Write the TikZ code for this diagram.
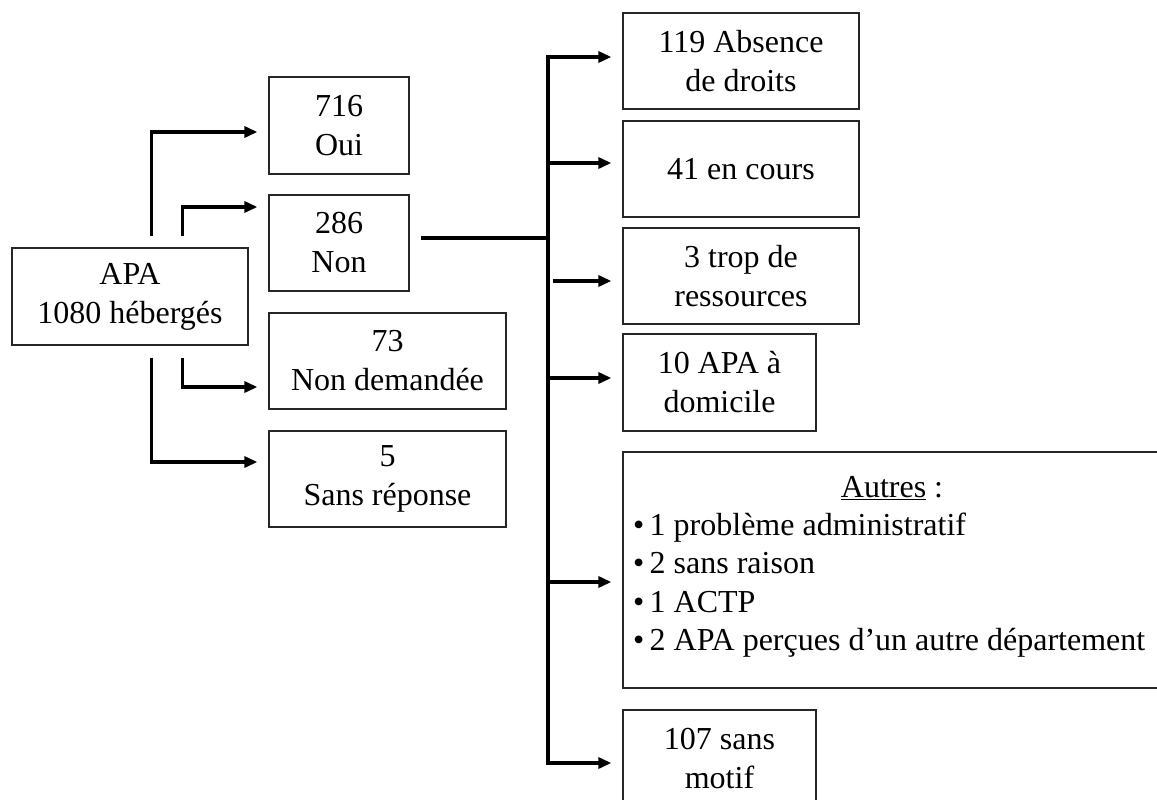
\documentclass[tikz,border=0pt]{standalone}
\usepackage{fontspec}
\setmainfont{Liberation Serif}
\usetikzlibrary{arrows.meta,calc}
\begin{document}
\begin{tikzpicture}[x=1pt,y=-1pt,
  box/.style={draw=black!85,line width=1.3pt,align=center,inner sep=0pt,
    font=\fontsize{32}{39}\selectfont},
  down/.style={execute at begin node={\rule{0pt}{#1}}},
  txt/.style={inner sep=0pt,font=\fontsize{32}{40}\selectfont},
  conn/.style={line width=3.7pt,-{Triangle[length=13pt,width=11pt]},shorten >=11pt},
  ln/.style={line width=3.7pt}]
\useasboundingbox (0,0) rectangle (1157,800);
% left boxes
\node[box,down=32pt,minimum width=236pt,minimum height=97pt] (apa) at (130,296.5) {APA\\1080 hébergés};
\node[box,down=26pt,minimum width=140pt,minimum height=97pt] (oui) at (339,125.5) {716\\Oui};
\node[box,down=28pt,minimum width=140pt,minimum height=96pt] (non) at (339,243) {286\\Non};
\node[box,down=26pt,minimum width=237pt,minimum height=96pt] (nd) at (387.5,361) {73\\Non demandée};
\node[box,down=29pt,minimum width=237pt,minimum height=96pt] (sr) at (387.5,479) {5\\Sans réponse};
% right boxes
\node[box,minimum width=236pt,minimum height=96pt] (a119) at (741,61) {119 Absence\\de droits};
\node[box,minimum width=236pt,minimum height=96pt] (a41) at (741,169) {41 en cours};
\node[box,minimum width=236pt,minimum height=96pt] (a3) at (741,276) {3 trop de\\ressources};
\node[box,minimum width=193pt,minimum height=97pt] (a10) at (719.5,382.5) {10 APA à\\domicile};
\node[box,minimum width=560pt,minimum height=236pt] (aut) at (903,570) {};
\node[box,down=26pt,minimum width=193pt,minimum height=97pt] (a107) at (719.5,758.5) {107 sans\\motif};
% Autres text
\node[txt,anchor=base] (autT) at (892,497) {\underline{Autres} :};
\node[txt,anchor=base west] (l1) at (633,535) {•\,1 problème administratif};
\node[txt,anchor=base west] (l2) at (633,573.5) {•\,2 sans raison};
\node[txt,anchor=base west] (l3) at (633,612) {•\,1 ACTP};
\node[txt,anchor=base west] (l4) at (633,650) {•\,2 APA perçues d’un autre département};
% connectors from APA
\draw[conn] ($(apa.north west)+(140,-11)$) |- ($(oui.west)+(0,6.5)$);
\draw[conn] ($(apa.north west)+(171,-11)$) |- ($(non.west)+(0,-36)$);
\draw[conn] ($(apa.south west)+(171,12)$) |- ($(nd.west)+(0,26)$);
\draw[conn] ($(apa.south west)+(140,12)$) |- ($(sr.west)+(0,-17)$);
% trunk
\coordinate (tTop) at (548,57);
\coordinate (tBot) at (548,763);
\draw[ln] ($(non.east)+(11,-5)$) -- (548,238);
\draw[ln,line cap=rect] (tBot) -- (tTop);
\draw[conn] (tTop) -- ($(a119.west)+(0,-4)$);
\draw[conn] (548,163) -- ($(a41.west)+(0,-6)$);
\draw[conn] (553,281) -- ($(a3.west)+(0,5)$);
\draw[conn] (548,378) -- ($(a10.west)+(0,-4.5)$);
\draw[conn] (548,582) -- (aut.west |- 0,582);
\draw[conn] (tBot) -- (a107.west |- 0,763);
\end{tikzpicture}
\end{document}
